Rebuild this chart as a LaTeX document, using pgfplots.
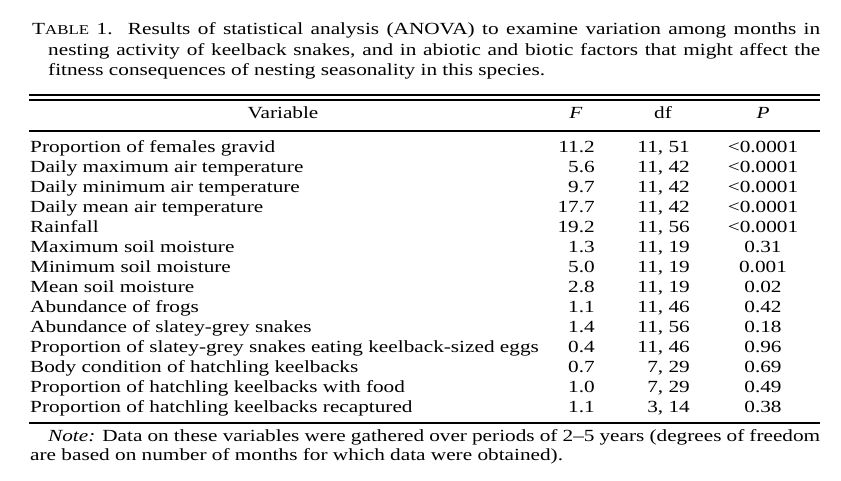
\documentclass[border=0pt]{standalone}
\usepackage{pgfplots}
\pgfplotsset{compat=1.18}
\usepackage{pgfplotstable}
\usepackage{fontspec}
\setmainfont[FakeStretch=1.25]{Liberation Serif}
\newcommand\bodyfont{\fontsize{17bp}{20bp}\selectfont}
\newcommand\capfont{\fontsize{17bp}{20bp}\selectfont}
\newcommand\capsc{\fontsize{13.5bp}{16bp}\selectfont}

\pgfplotstableread[col sep=semicolon, row sep=\\]{
row;name;F;df;P\\
1;Proportion of females gravid;11.2;11, 51;<0.0001\\
2;Daily maximum air temperature;5.6;11, 42;<0.0001\\
3;Daily minimum air temperature;9.7;11, 42;<0.0001\\
4;Daily mean air temperature;17.7;11, 42;<0.0001\\
5;Rainfall;19.2;11, 56;<0.0001\\
6;Maximum soil moisture;1.3;11, 19;0.31\\
7;Minimum soil moisture;5.0;11, 19;0.001\\
8;Mean soil moisture;2.8;11, 19;0.02\\
9;Abundance of frogs;1.1;11, 46;0.42\\
10;Abundance of slatey-grey snakes;1.4;11, 56;0.18\\
11;Proportion of slatey-grey snakes eating keelback-sized eggs;0.4;11, 46;0.96\\
12;Body condition of hatchling keelbacks;0.7;7, 29;0.69\\
13;Proportion of hatchling keelbacks with food;1.0;7, 29;0.49\\
14;Proportion of hatchling keelbacks recaptured;1.1;3, 14;0.38\\
}\anova

\begin{document}
\begin{tikzpicture}
\begin{axis}[
  scale only axis, width=841bp, height=481bp,
  xmin=0, xmax=841, ymin=0, ymax=481, y dir=reverse,
  hide axis, clip=false,
  every node near coord/.append style={inner sep=0pt, font=\bodyfont, text=black},
]
% caption
\node[anchor=base west, inner sep=0pt] at (axis cs:32,35) {\capfont\makebox[788bp][s]{T{\capsc ABLE} 1.\hspace{0.9em}Results of statistical analysis (ANOVA) to examine variation among months in}};
\node[anchor=base west, inner sep=0pt] at (axis cs:48,55.5) {\capfont\makebox[772bp][s]{nesting activity of keelback snakes, and in abiotic and biotic factors that might affect the}};
\node[anchor=base west, inner sep=0pt] at (axis cs:48,76) {\capfont fitness consequences of nesting seasonality in this species.};
% rules
\draw[line width=2bp] (axis cs:29,95.3) -- (axis cs:820,95.3);
\draw[line width=2bp] (axis cs:29,100) -- (axis cs:820,100);
\draw[line width=2.7bp] (axis cs:29,131) -- (axis cs:820,131);
\draw[line width=2bp] (axis cs:29,422.5) -- (axis cs:820,422.5);
% header
\node[anchor=base, inner sep=0pt] at (axis cs:283,119) {\bodyfont Variable};
\node[anchor=base, inner sep=0pt] at (axis cs:576,119) {\bodyfont\textit{F}};
\node[anchor=base, inner sep=0pt] at (axis cs:663,119) {\bodyfont df};
\node[anchor=base, inner sep=0pt] at (axis cs:763,119) {\bodyfont\textit{P}};
% rows
\addplot[draw=none, mark=none, nodes near coords, point meta=explicit symbolic,
  every node near coord/.append style={anchor=base west}]
  table[x expr=30, y expr=132+20*\thisrow{row}, meta=name] {\anova};
\addplot[draw=none, mark=none, nodes near coords, point meta=explicit symbolic,
  every node near coord/.append style={anchor=base east}]
  table[x expr=595, y expr=132+20*\thisrow{row}, meta=F] {\anova};
\addplot[draw=none, mark=none, nodes near coords, point meta=explicit symbolic,
  every node near coord/.append style={anchor=base east}]
  table[x expr=690, y expr=132+20*\thisrow{row}, meta=df] {\anova};
\addplot[draw=none, mark=none, nodes near coords, point meta=explicit symbolic,
  every node near coord/.append style={anchor=base}]
  table[x expr=763, y expr=132+20*\thisrow{row}, meta=P] {\anova};
% note
\node[anchor=base west, inner sep=0pt] at (axis cs:48,441) {\capfont\makebox[772bp][s]{\textit{Note:} Data on these variables were gathered over periods of 2--5 years (degrees of freedom}};
\node[anchor=base west, inner sep=0pt] at (axis cs:30,460) {\capfont are based on number of months for which data were obtained).};
\end{axis}
\pgfresetboundingbox
\path (current axis.south west) rectangle (current axis.north east);
\end{tikzpicture}
\end{document}
